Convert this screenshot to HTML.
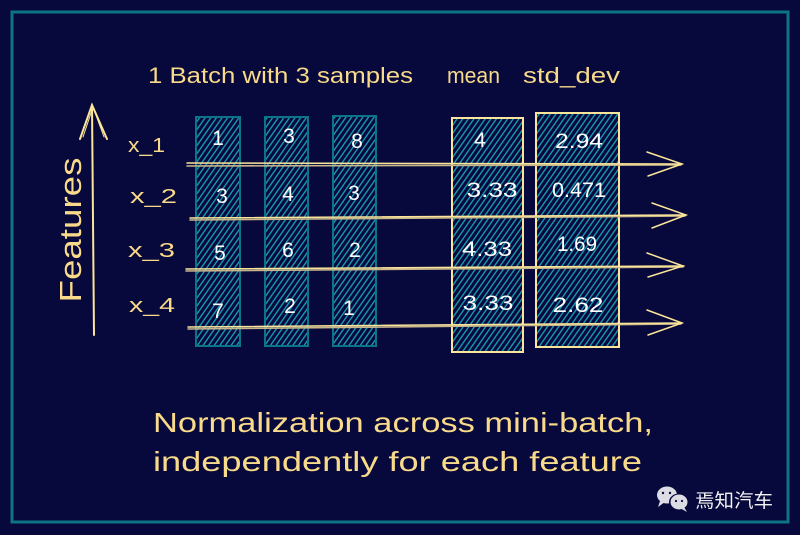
<!DOCTYPE html>
<html>
<head>
<meta charset="utf-8">
<style>
  html,body{margin:0;padding:0;background:#07083b;}
  svg{display:block;}
  text{font-family:"Liberation Sans","Noto Sans CJK SC",sans-serif;}
</style>
</head>
<body>
<svg width="800" height="535" viewBox="0 0 800 535" xmlns="http://www.w3.org/2000/svg">
  <defs>
    <pattern id="hatch" width="4.6" height="10" patternUnits="userSpaceOnUse" patternTransform="rotate(35)">
      <rect width="4.6" height="10" fill="#07083b"/>
      <line x1="1" y1="0" x2="1" y2="10" stroke="#17a5bd" stroke-width="1.3"/>
    </pattern>
  </defs>
  <rect x="0" y="0" width="800" height="535" fill="#07083b"/>
  <!-- frame -->
  <rect x="12" y="12" width="776" height="510" fill="none" stroke="#0c7486" stroke-width="3"/>

  <!-- title row -->
  <g fill="#f9da8a" font-size="22">
    <text x="148" y="83" textLength="265" lengthAdjust="spacingAndGlyphs">1 Batch with 3 samples</text>
    <text x="447" y="83" textLength="53" lengthAdjust="spacingAndGlyphs">mean</text>
    <text x="523" y="83" textLength="97" lengthAdjust="spacingAndGlyphs">std_dev</text>
  </g>

  <!-- sample columns -->
  <g fill="url(#hatch)" stroke="#0c7486" stroke-width="2">
    <rect x="196" y="117" width="44" height="229"/>
    <rect x="265" y="117" width="43" height="229"/>
    <rect x="333" y="116" width="43" height="230"/>
  </g>
  <!-- mean / std columns -->
  <g fill="url(#hatch)" stroke="#fbe59a" stroke-width="2">
    <rect x="452" y="118" width="71" height="234"/>
    <rect x="536" y="113" width="83" height="234"/>
  </g>

  <!-- numbers -->
  <g fill="#ffffff" font-size="21" text-anchor="middle">
    <text x="218" y="145">1</text>
    <text x="289" y="143">3</text>
    <text x="357" y="148">8</text>
    <text x="222" y="203">3</text>
    <text x="288" y="201">4</text>
    <text x="354" y="200">3</text>
    <text x="220" y="260">5</text>
    <text x="288" y="257">6</text>
    <text x="355" y="257">2</text>
    <text x="218" y="318">7</text>
    <text x="290" y="313">2</text>
    <text x="349" y="315">1</text>
    <text x="480" y="147">4</text>
    <text x="492" y="197" textLength="51" lengthAdjust="spacingAndGlyphs">3.33</text>
    <text x="487" y="256" textLength="50" lengthAdjust="spacingAndGlyphs">4.33</text>
    <text x="488" y="310" textLength="51" lengthAdjust="spacingAndGlyphs">3.33</text>
    <text x="579" y="148" textLength="48" lengthAdjust="spacingAndGlyphs">2.94</text>
    <text x="579" y="197" textLength="54" lengthAdjust="spacingAndGlyphs">0.471</text>
    <text x="577" y="251" textLength="40" lengthAdjust="spacingAndGlyphs">1.69</text>
    <text x="578" y="312" textLength="51" lengthAdjust="spacingAndGlyphs">2.62</text>
  </g>

  <!-- row arrows -->
  <g fill="none" stroke-linecap="round">
    <g stroke="#c8b68c" stroke-width="1.6">
      <line x1="187" y1="166" x2="681" y2="165"/>
      <line x1="190" y1="220" x2="685" y2="216"/>
      <line x1="186" y1="271" x2="683" y2="267"/>
      <line x1="188" y1="329" x2="681" y2="324"/>
    </g>
    <g stroke="#fbe59a" stroke-width="1.5">
      <line x1="187" y1="163" x2="682" y2="164"/>
      <line x1="190" y1="218" x2="686" y2="215"/>
      <line x1="186" y1="269" x2="684" y2="266"/>
      <line x1="188" y1="327" x2="682" y2="323"/>
      <polyline points="647,152 682,164 648,176"/>
      <polyline points="652,203 686,215 652,228"/>
      <polyline points="647,253 683,266 648,277"/>
      <polyline points="647,310 682,323 648,335"/>
    </g>
  </g>

  <!-- features axis -->
  <g fill="none" stroke="#fbe59a" stroke-width="2" stroke-linecap="round">
    <line x1="94" y1="335" x2="92" y2="105"/>
    <polyline points="80,139 92,105 107,139"/>
    <polyline points="83,137 93,107 104,137" stroke-width="1"/>
  </g>
  <text transform="translate(81,230) rotate(-90)" x="0" y="0" text-anchor="middle" fill="#f9da8a" font-size="31" textLength="145" lengthAdjust="spacingAndGlyphs">Features</text>

  <!-- feature labels -->
  <g fill="#f9da8a" font-size="20">
    <text x="128" y="152" textLength="37" lengthAdjust="spacingAndGlyphs">x_1</text>
    <text x="130" y="203" textLength="47" lengthAdjust="spacingAndGlyphs">x_2</text>
    <text x="128" y="257" textLength="47" lengthAdjust="spacingAndGlyphs">x_3</text>
    <text x="129" y="312" textLength="46" lengthAdjust="spacingAndGlyphs">x_4</text>
  </g>

  <!-- bottom caption -->
  <g fill="#f9da8a" font-size="28">
    <text x="153" y="432" textLength="500" lengthAdjust="spacingAndGlyphs">Normalization across mini-batch,</text>
    <text x="153" y="471" textLength="489" lengthAdjust="spacingAndGlyphs">independently for each feature</text>
  </g>

  <!-- watermark -->
  <g>
    <ellipse cx="667" cy="495" rx="10" ry="8.5" fill="#dcdce4"/>
    <path d="M660 501 L658 507 L665 502 Z" fill="#dcdce4"/>
    <ellipse cx="679" cy="502" rx="10" ry="8.5" fill="#07083b"/>
    <ellipse cx="679" cy="502" rx="8.5" ry="7.5" fill="#dcdce4"/>
    <path d="M684 507 L687 512 L680 508 Z" fill="#dcdce4"/>
    <circle cx="663" cy="493" r="1.2" fill="#07083b"/>
    <circle cx="670" cy="493" r="1.2" fill="#07083b"/>
    <circle cx="676" cy="501" r="1.1" fill="#07083b"/>
    <circle cx="682" cy="501" r="1.1" fill="#07083b"/>
    <text x="695" y="507" fill="#f2f2f4" font-size="19" font-family="'Noto Sans CJK SC',sans-serif" textLength="78" lengthAdjust="spacingAndGlyphs">焉知汽车</text>
  </g>
</svg>
</body>
</html>
